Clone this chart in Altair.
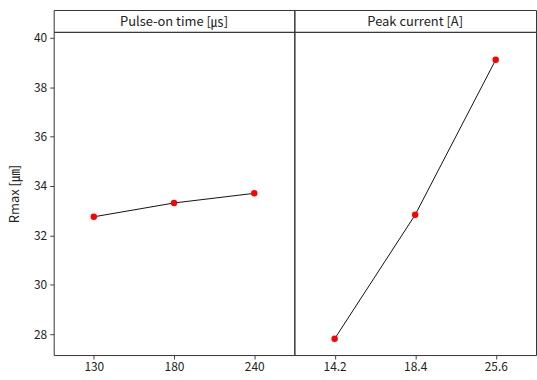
import altair as alt
import pandas as pd

FONT = "Noto Sans CJK KR"

left_title = "Pulse-on time [㎲]"
right_title = "Peak current [A]"
y_title = "Rmax [㎛]"

pulse_levels = ["130", "180", "240"]
pulse_rmax = [32.75, 33.31, 33.70]

current_levels = ["14.2", "18.4", "25.6"]
current_rmax = [27.81, 32.83, 39.11]

y_ticks = [28, 30, 32, 34, 36, 38, 40]
y_domain = [27.15, 40.24]

H_HEAD = 22
H_PLOT = 325
W_LEFT = 242
W_RIGHT = 243


def header(title, w):
    df = pd.DataFrame({"t": [title]})
    return (
        alt.Chart(df)
        .mark_text(font=FONT, fontSize=13, color="#222", baseline="middle", align="center")
        .encode(text="t:N", x=alt.value(w / 2), y=alt.value(H_HEAD / 2 + 1))
        .properties(width=w, height=H_HEAD)
    )


def panel(levels, vals, w, show_y):
    df = pd.DataFrame({"lvl": levels, "rmax": vals})
    x = alt.X(
        "lvl:O",
        sort=levels,
        scale=alt.Scale(type="point", padding=0.5),
        axis=alt.Axis(
            title=None, labelAngle=0, domain=False, tickSize=4, tickColor="#444",
            labelFont=FONT, labelFontSize=12, labelColor="#222", labelPadding=3,
        ),
    )
    if show_y:
        yaxis = alt.Axis(
            values=y_ticks, title=y_title, titleFont=FONT, titleFontSize=13,
            titleFontWeight="normal", titleColor="#222", titlePadding=12,
            domain=False, tickSize=4, tickColor="#444", grid=False,
            labelFont=FONT, labelFontSize=12, labelColor="#222", labelPadding=3,
        )
    else:
        yaxis = None
    y = alt.Y("rmax:Q", scale=alt.Scale(domain=y_domain, nice=False, zero=False), axis=yaxis)
    base = alt.Chart(df).encode(x=x, y=y)
    line = base.mark_line(color="#111", strokeWidth=1)
    pts = base.mark_point(filled=True, color="#ff0000", size=42, opacity=1)
    return (line + pts).properties(width=w, height=H_PLOT)


chart = (
    alt.concat(
        header(left_title, W_LEFT),
        header(right_title, W_RIGHT),
        panel(pulse_levels, pulse_rmax, W_LEFT, True),
        panel(current_levels, current_rmax, W_RIGHT, False),
        columns=2,
        spacing=0,
        bounds="flush",
    )
    .properties(
        padding={"left": 8, "top": 8, "right": 0, "bottom": 0},
        background="white",
    )
    .configure_view(stroke="#333", strokeWidth=1)
    .configure_axis(grid=False)
)

chart.save("out.html", embed_options={"renderer": "svg", "actions": False})
